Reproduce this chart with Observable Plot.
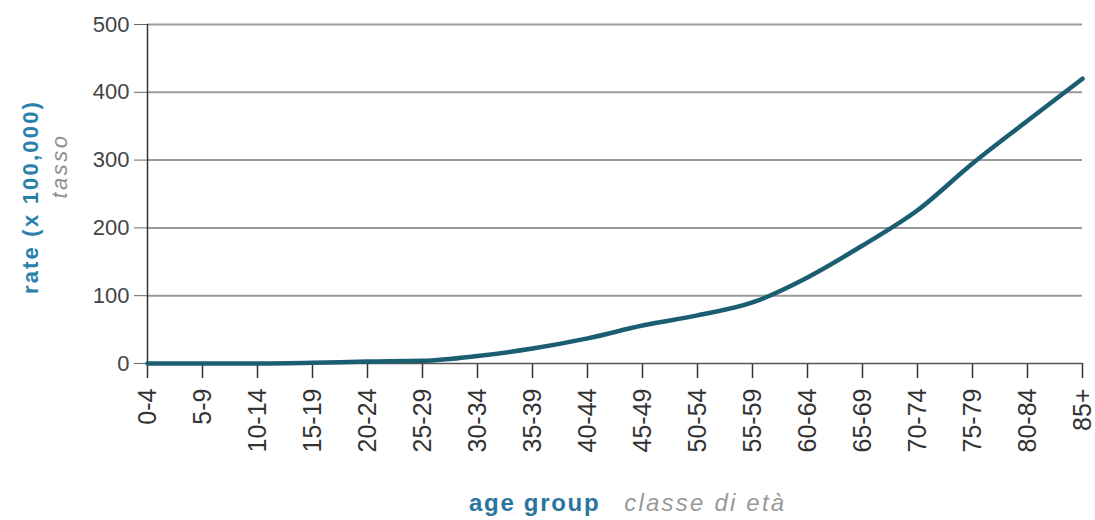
<!DOCTYPE html>
<html><head><meta charset="utf-8">
<script src="https://cdn.jsdelivr.net/npm/d3@7"></script>
<script src="https://cdn.jsdelivr.net/npm/@observablehq/plot@0.6"></script>
<style>
body{margin:0;background:#fff;font-family:"Liberation Sans",Arial,sans-serif;}
#wrap{position:relative;width:1095px;height:520px;overflow:hidden;}
.rot{position:absolute;white-space:nowrap;line-height:1;transform:translate(-50%,-50%) rotate(-90deg);}
#ylab1{left:31px;top:197px;color:#2a80ad;font-weight:bold;font-size:22px;letter-spacing:2.2px;}
#ylab2{left:60px;top:166px;color:#8e8e8e;font-style:italic;font-size:22px;letter-spacing:2.5px;}
#xlab{position:absolute;left:469px;top:491px;white-space:nowrap;font-size:24px;line-height:1;}
#xlab .a{color:#2a74a0;font-weight:bold;letter-spacing:1.7px;}
#xlab .b{color:#999;font-style:italic;margin-left:24px;letter-spacing:2.2px;}
</style></head><body>
<div id="wrap">
<div id="chart"></div>
<div id="ylab1" class="rot">rate (x 100,000)</div>
<div id="ylab2" class="rot">tasso</div>
<div id="xlab"><span class="a">age group</span><span class="b">classe di età</span></div>
</div>
<script>
const ageGroups = ["0-4","5-9","10-14","15-19","20-24","25-29","30-34","35-39","40-44","45-49","50-54","55-59","60-64","65-69","70-74","75-79","80-84","85+"];
const rates = [0, 0, 0, 1, 3, 4, 11, 22, 37, 56, 71, 90, 127, 174, 226, 295, 358, 420];
const yTicks = [0, 100, 200, 300, 400, 500];

const data = ageGroups.map((g, i) => ({group: g, rate: rates[i]}));

const chart = Plot.plot({
  width: 1095,
  height: 470,
  marginLeft: 147,
  marginRight: 13,
  marginTop: 24,
  marginBottom: 107,
  style: {fontFamily: "Liberation Sans, Arial, sans-serif", background: "#fff", color: "#444", overflow: "visible"},
  x: {type: "point", domain: ageGroups, padding: 0, round: false, label: null},
  y: {domain: [0, 500], ticks: yTicks, label: null},
  marks: [
    Plot.ruleY(yTicks.filter(d => d > 0), {stroke: "#9a9a9a", strokeWidth: 2}),
    Plot.axisY({ticks: yTicks, tickSize: 13, tickPadding: 5, fontSize: 22, label: null, stroke: "#666", color: "#444"}),
    Plot.axisX({tickSize: 15, tickPadding: 10, tickRotate: -90, fontSize: 25, label: null, stroke: "#333", strokeWidth: 1.5, color: "#333"}),
    Plot.ruleX([ageGroups[0]], {y1: 0, y2: 500, stroke: "#333", strokeWidth: 1.5}),
    Plot.ruleY([0], {stroke: "#555", strokeWidth: 1.5}),
    Plot.line(data, {x: "group", y: "rate", stroke: "#1b5e72", strokeWidth: 4.5, curve: "monotone-x"})
  ]
});
document.getElementById("chart").appendChild(chart);
</script>
</body></html>
